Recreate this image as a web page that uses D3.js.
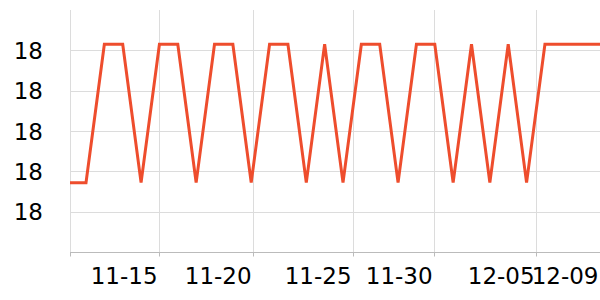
<!DOCTYPE html>
<html>
<head>
  <meta charset="UTF-8">
  <script src="https://d3js.org/d3.v7.min.js"></script>
  <style>
    body { margin: 0; background: #fff; }
    svg { display: block; font-family: "DejaVu Sans", sans-serif; }
  </style>
</head>
<body>
<svg id="chart"></svg>
<script>
  // time stamps of the readings
  let times = [
    "2023-11-10T09:05", "2023-11-11T06:00", "2023-11-12T06:00", "2023-11-13T06:00",
    "2023-11-14T06:00", "2023-11-15T06:00", "2023-11-16T06:00", "2023-11-17T06:00",
    "2023-11-18T06:00", "2023-11-19T06:00", "2023-11-20T06:00", "2023-11-21T06:00",
    "2023-11-22T06:00", "2023-11-23T06:00", "2023-11-24T06:00", "2023-11-25T06:00",
    "2023-11-26T06:00", "2023-11-27T06:00", "2023-11-28T06:00", "2023-11-29T06:00",
    "2023-11-30T06:00", "2023-12-01T06:00", "2023-12-02T06:00", "2023-12-03T06:00",
    "2023-12-04T06:00", "2023-12-05T06:00", "2023-12-06T06:00", "2023-12-07T06:00",
    "2023-12-08T06:00", "2023-12-09T06:00"
  ];
  let values = [
    18.0172, 18.0172, 18.0515, 18.0515, 18.0172, 18.0515, 18.0515, 18.0172,
    18.0515, 18.0515, 18.0172, 18.0515, 18.0515, 18.0172, 18.0515, 18.0172,
    18.0515, 18.0515, 18.0172, 18.0515, 18.0515, 18.0172, 18.0515, 18.0172,
    18.0515, 18.0172, 18.0515, 18.0515, 18.0515, 18.0515
  ];
  // x ticks (first one has no label)
  let xTicks = [
    "2023-11-10T09:05", "2023-11-15T05:30", "2023-11-20T08:30", "2023-11-25T19:10",
    "2023-11-30T05:10", "2023-12-05T18:30", "2023-12-09T06:00"
  ];
  let xTickLabels = ["", "11-15", "11-20", "11-25", "11-30", "12-05", "12-09"];
  let yTicks = [18.01, 18.02, 18.03, 18.04, 18.05];

  let width = 600, height = 300;
  let margin = { top: 10, right: 0, bottom: 48, left: 70 };

  let parse = d3.isoParse;
  let data = times.map((t, i) => ({ t: parse(t), v: values[i] }));

  let svg = d3.select("#chart").attr("width", width).attr("height", height);

  let x = d3.scaleTime()
            .domain(d3.extent(data, d => d.t))
            .range([margin.left, width - margin.right]);
  let y = d3.scaleLinear()
            .domain([18.00, 18.06])
            .range([height - margin.bottom, margin.top]);

  // horizontal grid
  svg.append("g").selectAll("line").data(yTicks).join("line")
     .attr("x1", margin.left).attr("x2", width - margin.right)
     .attr("y1", d => Math.round(y(d)) + 0.5).attr("y2", d => Math.round(y(d)) + 0.5)
     .attr("stroke", "#dcdcdc").attr("stroke-width", 1);

  // vertical grid
  svg.append("g").selectAll("line").data(xTicks.slice(0, -1)).join("line")
     .attr("x1", d => Math.round(x(parse(d))) + 0.5).attr("x2", d => Math.round(x(parse(d))) + 0.5)
     .attr("y1", margin.top).attr("y2", height - margin.bottom)
     .attr("stroke", "#dcdcdc").attr("stroke-width", 1);

  // y labels
  svg.append("g").selectAll("text").data(yTicks).join("text")
     .attr("x", 43).attr("y", d => y(d) + 8.5)
     .attr("text-anchor", "end")
     .attr("font-size", 23).attr("fill", "#000")
     .text(d => d3.format(".0f")(d));

  // x axis line and ticks
  let base = Math.round(y(18.00)) + 0.5;
  svg.append("line")
     .attr("x1", margin.left).attr("x2", width)
     .attr("y1", base).attr("y2", base)
     .attr("stroke", "#bbb").attr("stroke-width", 1);
  svg.append("g").selectAll("line").data(xTicks).join("line")
     .attr("x1", d => Math.round(x(parse(d))) + 0.5).attr("x2", d => Math.round(x(parse(d))) + 0.5)
     .attr("y1", base).attr("y2", base + 4)
     .attr("stroke", "#bbb").attr("stroke-width", 1);

  svg.append("g").selectAll("text").data(xTicks).join("text")
     .attr("x", d => x(parse(d)) - 1.5).attr("y", 283.5)
     .attr("text-anchor", "end")
     .attr("font-size", 23).attr("fill", "#000")
     .text((d, i) => xTickLabels[i]);

  // the series
  let line = d3.line().x(d => x(d.t)).y(d => y(d.v));
  svg.append("path").datum(data)
     .attr("d", line)
     .attr("fill", "none")
     .attr("stroke", "#ee4d2d")
     .attr("stroke-width", 3)
     .attr("stroke-linejoin", "miter");
</script>
</body>
</html>
